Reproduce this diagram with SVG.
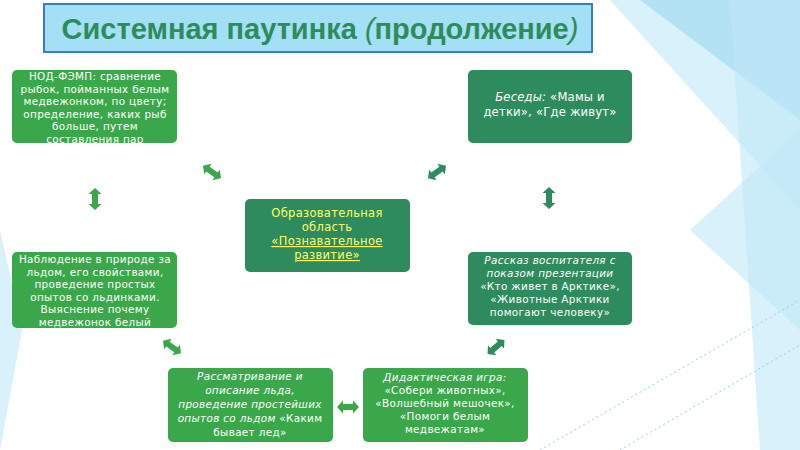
<svg xmlns="http://www.w3.org/2000/svg" width="800" height="450" viewBox="0 0 800 450">
<defs>
<style>
.bg1{fill:#bfe8f7;opacity:0.6}
.bg2{fill:#8fd3f0;opacity:0.5}
.lg{fill:#3aa84a}
.dg{fill:#2e8b5e}
.t{font-family:"DejaVu Sans","Noto Sans",sans-serif;font-size:10.4px;letter-spacing:0.35px;fill:#ffffff;text-anchor:middle}
.y{fill:#ffff66;font-size:11.5px;letter-spacing:0.3px}
.b{font-size:11.6px;letter-spacing:0.2px}
.i{font-style:italic}
.title{font-family:"Liberation Sans",Arial,sans-serif;font-size:29px;font-weight:bold;fill:#2e8c5a;text-anchor:middle}
</style>
<path id="dbl" d="M-11,0 L-5,-6.5 L-5,-3 L5,-3 L5,-6.5 L11,0 L5,6.5 L5,3 L-5,3 L-5,6.5 Z"/>
</defs>
<rect width="800" height="450" fill="#ffffff"/>
<g id="background">
<polygon class="bg1" points="610,0 800,0 800,210"/>
<polygon class="bg2" points="640,0 800,0 800,120"/>
<polygon class="bg1" points="730,0 800,0 800,450 760,450"/>
<polygon class="bg1" points="690,230 800,130 800,330"/>
<polygon class="bg1" points="0,230 22,330 0,450"/>
<line x1="540" y1="450" x2="800" y2="300" stroke="#8fd3f0" stroke-width="1" stroke-dasharray="2,3"/>
<line x1="620" y1="450" x2="800" y2="345" stroke="#8fd3f0" stroke-width="1" stroke-dasharray="2,3"/>
</g>
<g id="title">
<rect x="44" y="4" width="548" height="48" fill="#a3dff5" stroke="#3b7cc0" stroke-width="2"/>
<text class="title" x="320" y="39">Системная паутинка <tspan font-style="italic" font-weight="normal">(</tspan>продолжение<tspan font-style="italic" font-weight="normal">)</tspan></text>
</g>
<g id="connectors">
<use href="#dbl" class="lg" transform="translate(212,172) rotate(35)"/>
<use href="#dbl" class="lg" transform="translate(95,199) rotate(90)"/>
<use href="#dbl" class="dg" transform="translate(437,172) rotate(-35)"/>
<use href="#dbl" class="dg" transform="translate(549,198) rotate(90)"/>
<use href="#dbl" class="lg" transform="translate(172,347) rotate(35)"/>
<use href="#dbl" class="lg" transform="translate(348,407)"/>
<use href="#dbl" class="dg" transform="translate(496,347) rotate(-40)"/>
</g>
<g id="n1">
<rect class="lg" x="12" y="70" width="165" height="73" rx="5"/>
<text class="t" x="95" y="80">НОД-ФЭМП: сравнение</text>
<text class="t" x="95" y="92.5">рыбок, пойманных белым</text>
<text class="t" x="95" y="105">медвежонком, по цвету;</text>
<text class="t" x="95" y="117.5">определение, каких рыб</text>
<text class="t" x="95" y="130">больше, путем</text>
<text class="t" x="95" y="142.5">составления пар</text>
</g>
<g id="n2">
<rect class="dg" x="468" y="70" width="164" height="73" rx="5"/>
<text class="t b" x="550" y="101"><tspan class="i">Беседы:</tspan> «Мамы и</text>
<text class="t b" x="550" y="116">детки», «Где живут»</text>
</g>
<g id="center">
<rect class="dg" x="245" y="199" width="165" height="73" rx="5"/>
<text class="t y" x="327" y="217">Образовательная</text>
<text class="t y" x="327" y="231">область</text>
<text class="t y" x="327" y="245" text-decoration="underline">«Познавательное</text>
<text class="t y" x="327" y="259" text-decoration="underline">развитие»</text>
</g>
<g id="n3">
<rect class="lg" x="12" y="252" width="165" height="76" rx="5"/>
<text class="t" x="95" y="263">Наблюдение в природе за</text>
<text class="t" x="95" y="275.5">льдом, его свойствами,</text>
<text class="t" x="95" y="288">проведение простых</text>
<text class="t" x="95" y="300.5">опытов со льдинками.</text>
<text class="t" x="95" y="313">Выяснение почему</text>
<text class="t" x="95" y="325.5">медвежонок белый</text>
</g>
<g id="n4">
<rect class="dg" x="468" y="252" width="164" height="73" rx="5"/>
<text class="t i" x="550" y="264">Рассказ воспитателя с</text>
<text class="t i" x="550" y="277">показом презентации</text>
<text class="t" x="550" y="290">«Кто живет в Арктике»,</text>
<text class="t" x="550" y="303">«Животные Арктики</text>
<text class="t" x="550" y="316">помогают человеку»</text>
</g>
<g id="n5">
<rect class="lg" x="168" y="368" width="165" height="74" rx="5"/>
<text class="t i" x="250" y="380">Рассматривание и</text>
<text class="t i" x="250" y="394">описание льда,</text>
<text class="t i" x="250" y="408">проведение простейших</text>
<text class="t" x="250" y="422"><tspan class="i">опытов со льдом</tspan> «Каким</text>
<text class="t" x="250" y="436">бывает лед»</text>
</g>
<g id="n6">
<rect class="lg" x="363" y="368" width="165" height="74" rx="5"/>
<text class="t i" x="445" y="381">Дидактическая игра:</text>
<text class="t" x="445" y="394">«Собери животных»,</text>
<text class="t" x="445" y="407">«Волшебный мешочек»,</text>
<text class="t" x="445" y="420">«Помоги белым</text>
<text class="t" x="445" y="433">медвежатам»</text>
</g>
</svg>
